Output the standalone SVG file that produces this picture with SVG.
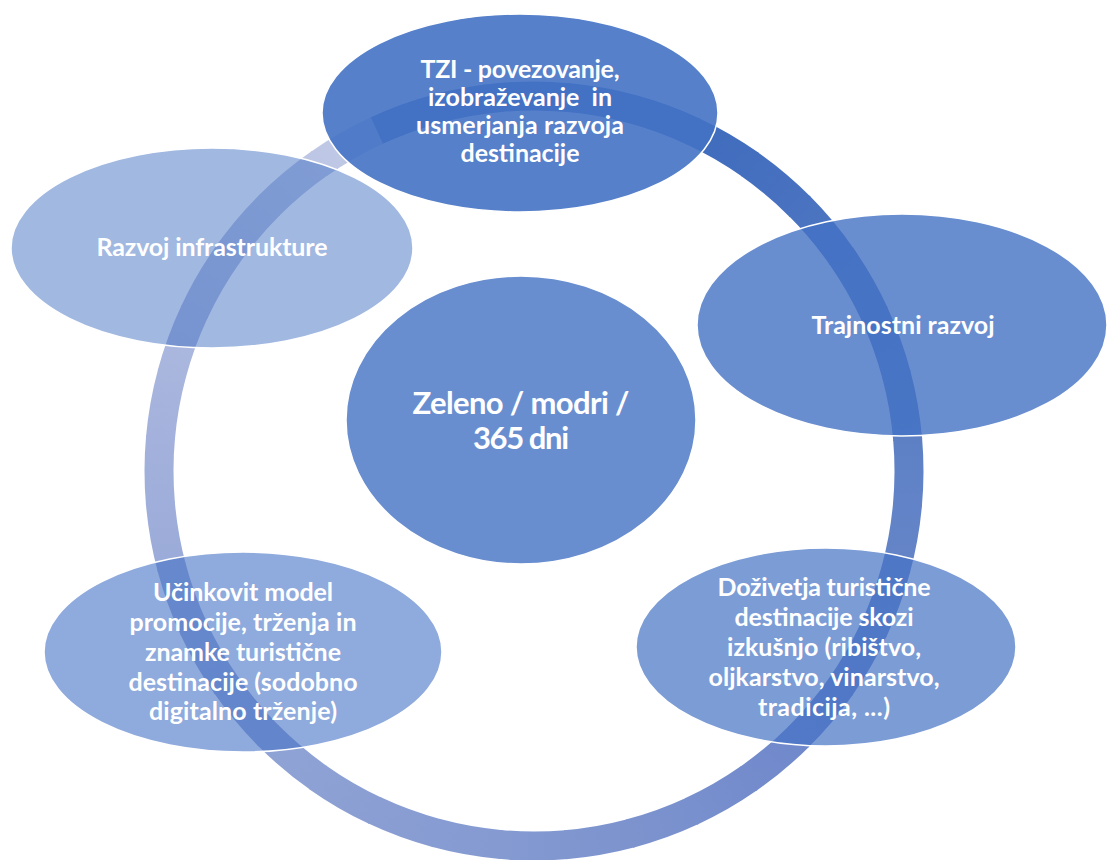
<svg xmlns="http://www.w3.org/2000/svg" width="1107" height="860" viewBox="0 0 1107 860">
<style>
.n{stroke:#fff;stroke-width:1.5}
.t{font-family:Lato,"Open Sans","Liberation Sans",sans-serif;font-weight:700;font-size:25px;fill:#fff;text-anchor:middle}
.c{font-size:31px}
.s{fill:none;stroke-width:29;stroke-dasharray:67 2300}
</style>
<defs>
<linearGradient id="g01" gradientUnits="userSpaceOnUse" x1="909" y1="471" x2="903.3" y2="536.1"><stop offset="0" stop-color="#3C66B9"/><stop offset="1" stop-color="#3D67BA"/></linearGradient>
<linearGradient id="g02" href="#g01"><stop offset="0" stop-color="#3D67BA"/><stop offset="1" stop-color="#3E69BB"/></linearGradient>
<linearGradient id="g03" href="#g01"><stop offset="0" stop-color="#3E69BB"/><stop offset="1" stop-color="#3F6ABC"/></linearGradient>
<linearGradient id="g04" href="#g01"><stop offset="0" stop-color="#3F6ABC"/><stop offset="1" stop-color="#406BBC"/></linearGradient>
<linearGradient id="g05" href="#g01"><stop offset="0" stop-color="#406BBC"/><stop offset="1" stop-color="#406CBD"/></linearGradient>
<linearGradient id="g06" href="#g01"><stop offset="0" stop-color="#406CBD"/><stop offset="1" stop-color="#446FBF"/></linearGradient>
<linearGradient id="g07" href="#g01"><stop offset="0" stop-color="#446FBF"/><stop offset="1" stop-color="#4972C0"/></linearGradient>
<linearGradient id="g08" href="#g01"><stop offset="0" stop-color="#4972C0"/><stop offset="1" stop-color="#4E76C1"/></linearGradient>
<linearGradient id="g09" href="#g01"><stop offset="0" stop-color="#4E76C1"/><stop offset="1" stop-color="#5379C3"/></linearGradient>
<linearGradient id="g10" href="#g01"><stop offset="0" stop-color="#5379C3"/><stop offset="1" stop-color="#587DC4"/></linearGradient>
<linearGradient id="g11" href="#g01"><stop offset="0" stop-color="#587DC4"/><stop offset="1" stop-color="#5D80C5"/></linearGradient>
<linearGradient id="g12" href="#g01"><stop offset="0" stop-color="#5D80C5"/><stop offset="1" stop-color="#6283C7"/></linearGradient>
<linearGradient id="g13" href="#g01"><stop offset="0" stop-color="#6283C7"/><stop offset="1" stop-color="#6584C8"/></linearGradient>
<linearGradient id="g14" href="#g01"><stop offset="0" stop-color="#6584C8"/><stop offset="1" stop-color="#6986C9"/></linearGradient>
<linearGradient id="g15" href="#g01"><stop offset="0" stop-color="#6986C9"/><stop offset="1" stop-color="#6C87CA"/></linearGradient>
<linearGradient id="g16" href="#g01"><stop offset="0" stop-color="#6C87CA"/><stop offset="1" stop-color="#7089CB"/></linearGradient>
<linearGradient id="g17" href="#g01"><stop offset="0" stop-color="#7089CB"/><stop offset="1" stop-color="#748CCC"/></linearGradient>
<linearGradient id="g18" href="#g01"><stop offset="0" stop-color="#748CCC"/><stop offset="1" stop-color="#7890CD"/></linearGradient>
<linearGradient id="g19" href="#g01"><stop offset="0" stop-color="#7890CD"/><stop offset="1" stop-color="#7C93CE"/></linearGradient>
<linearGradient id="g20" href="#g01"><stop offset="0" stop-color="#7C93CE"/><stop offset="1" stop-color="#8096CF"/></linearGradient>
<linearGradient id="g21" href="#g01"><stop offset="0" stop-color="#8096CF"/><stop offset="1" stop-color="#849AD1"/></linearGradient>
<linearGradient id="g22" href="#g01"><stop offset="0" stop-color="#849AD1"/><stop offset="1" stop-color="#879CD2"/></linearGradient>
<linearGradient id="g23" href="#g01"><stop offset="0" stop-color="#879CD2"/><stop offset="1" stop-color="#8A9ED3"/></linearGradient>
<linearGradient id="g24" href="#g01"><stop offset="0" stop-color="#8A9ED3"/><stop offset="1" stop-color="#8DA1D4"/></linearGradient>
<linearGradient id="g25" href="#g01"><stop offset="0" stop-color="#8DA1D4"/><stop offset="1" stop-color="#90A3D5"/></linearGradient>
<linearGradient id="g26" href="#g01"><stop offset="0" stop-color="#90A3D5"/><stop offset="1" stop-color="#94A6D6"/></linearGradient>
<linearGradient id="g27" href="#g01"><stop offset="0" stop-color="#94A6D6"/><stop offset="1" stop-color="#98A8D8"/></linearGradient>
<linearGradient id="g28" href="#g01"><stop offset="0" stop-color="#98A8D8"/><stop offset="1" stop-color="#9BABD9"/></linearGradient>
<linearGradient id="g29" href="#g01"><stop offset="0" stop-color="#9BABD9"/><stop offset="1" stop-color="#9FAEDA"/></linearGradient>
<linearGradient id="g30" href="#g01"><stop offset="0" stop-color="#9FAEDA"/><stop offset="1" stop-color="#A3B1DC"/></linearGradient>
<linearGradient id="g31" href="#g01"><stop offset="0" stop-color="#A3B1DC"/><stop offset="1" stop-color="#A8B5DD"/></linearGradient>
<linearGradient id="g32" href="#g01"><stop offset="0" stop-color="#A8B5DD"/><stop offset="1" stop-color="#ADB9DF"/></linearGradient>
<linearGradient id="g33" href="#g01"><stop offset="0" stop-color="#ADB9DF"/><stop offset="1" stop-color="#B2BDE0"/></linearGradient>
<linearGradient id="g34" href="#g01"><stop offset="0" stop-color="#B2BDE0"/><stop offset="1" stop-color="#B7C2E2"/></linearGradient>
<linearGradient id="g35" href="#g01"><stop offset="0" stop-color="#B7C2E2"/><stop offset="1" stop-color="#BDC6E4"/></linearGradient>
<linearGradient id="g36" href="#g01"><stop offset="0" stop-color="#BDC6E4"/><stop offset="1" stop-color="#C2CBE6"/></linearGradient>
</defs>
<rect width="1107" height="860" fill="#fff"/>
<g id="connectors">
<g id="ring">
<circle class="s" cx="534" cy="471" r="375" stroke="url(#g01)" transform="rotate(-115 534 471)"/>
<circle class="s" cx="534" cy="471" r="375" stroke="url(#g02)" transform="rotate(-105 534 471)"/>
<circle class="s" cx="534" cy="471" r="375" stroke="url(#g03)" transform="rotate(-95 534 471)"/>
<circle class="s" cx="534" cy="471" r="375" stroke="url(#g04)" transform="rotate(-85 534 471)"/>
<circle class="s" cx="534" cy="471" r="375" stroke="url(#g05)" transform="rotate(-75 534 471)"/>
<circle class="s" cx="534" cy="471" r="375" stroke="url(#g06)" transform="rotate(-65 534 471)"/>
<circle class="s" cx="534" cy="471" r="375" stroke="url(#g07)" transform="rotate(-55 534 471)"/>
<circle class="s" cx="534" cy="471" r="375" stroke="url(#g08)" transform="rotate(-45 534 471)"/>
<circle class="s" cx="534" cy="471" r="375" stroke="url(#g09)" transform="rotate(-35 534 471)"/>
<circle class="s" cx="534" cy="471" r="375" stroke="url(#g10)" transform="rotate(-25 534 471)"/>
<circle class="s" cx="534" cy="471" r="375" stroke="url(#g11)" transform="rotate(-15 534 471)"/>
<circle class="s" cx="534" cy="471" r="375" stroke="url(#g12)" transform="rotate(-5 534 471)"/>
<circle class="s" cx="534" cy="471" r="375" stroke="url(#g13)" transform="rotate(5 534 471)"/>
<circle class="s" cx="534" cy="471" r="375" stroke="url(#g14)" transform="rotate(15 534 471)"/>
<circle class="s" cx="534" cy="471" r="375" stroke="url(#g15)" transform="rotate(25 534 471)"/>
<circle class="s" cx="534" cy="471" r="375" stroke="url(#g16)" transform="rotate(35 534 471)"/>
<circle class="s" cx="534" cy="471" r="375" stroke="url(#g17)" transform="rotate(45 534 471)"/>
<circle class="s" cx="534" cy="471" r="375" stroke="url(#g18)" transform="rotate(55 534 471)"/>
<circle class="s" cx="534" cy="471" r="375" stroke="url(#g19)" transform="rotate(65 534 471)"/>
<circle class="s" cx="534" cy="471" r="375" stroke="url(#g20)" transform="rotate(75 534 471)"/>
<circle class="s" cx="534" cy="471" r="375" stroke="url(#g21)" transform="rotate(85 534 471)"/>
<circle class="s" cx="534" cy="471" r="375" stroke="url(#g22)" transform="rotate(95 534 471)"/>
<circle class="s" cx="534" cy="471" r="375" stroke="url(#g23)" transform="rotate(105 534 471)"/>
<circle class="s" cx="534" cy="471" r="375" stroke="url(#g24)" transform="rotate(115 534 471)"/>
<circle class="s" cx="534" cy="471" r="375" stroke="url(#g25)" transform="rotate(125 534 471)"/>
<circle class="s" cx="534" cy="471" r="375" stroke="url(#g26)" transform="rotate(135 534 471)"/>
<circle class="s" cx="534" cy="471" r="375" stroke="url(#g27)" transform="rotate(145 534 471)"/>
<circle class="s" cx="534" cy="471" r="375" stroke="url(#g28)" transform="rotate(155 534 471)"/>
<circle class="s" cx="534" cy="471" r="375" stroke="url(#g29)" transform="rotate(165 534 471)"/>
<circle class="s" cx="534" cy="471" r="375" stroke="url(#g30)" transform="rotate(175 534 471)"/>
<circle class="s" cx="534" cy="471" r="375" stroke="url(#g31)" transform="rotate(185 534 471)"/>
<circle class="s" cx="534" cy="471" r="375" stroke="url(#g32)" transform="rotate(195 534 471)"/>
<circle class="s" cx="534" cy="471" r="375" stroke="url(#g33)" transform="rotate(205 534 471)"/>
<circle class="s" cx="534" cy="471" r="375" stroke="url(#g34)" transform="rotate(215 534 471)"/>
<circle class="s" cx="534" cy="471" r="375" stroke="url(#g35)" transform="rotate(225 534 471)"/>
<circle class="s" cx="534" cy="471" r="375" stroke="url(#g36)" transform="rotate(235 534 471)"/>
</g>
</g>
<g id="center">
<ellipse class="n" cx="521" cy="420" rx="175" ry="144" fill="#4472C4" fill-opacity="0.8"/>
<text class="t c" x="521" y="414" textLength="217">Zeleno / modri /</text>
<text class="t c" x="521" y="449" textLength="96">365 dni</text>
</g>
<g id="node-top">
<ellipse class="n" cx="520" cy="113" rx="198" ry="99" fill="#4472C4" fill-opacity="0.9"/>
<text class="t" x="520" y="78" textLength="199">TZI - povezovanje,</text>
<text class="t" x="520" y="106" textLength="184">izobraževanje&#160; in</text>
<text class="t" x="520" y="134" textLength="208">usmerjanja razvoja</text>
<text class="t" x="520" y="162" textLength="119">destinacije</text>
</g>
<g id="node-right">
<ellipse class="n" cx="902" cy="325" rx="205" ry="111" fill="#4472C4" fill-opacity="0.8"/>
<text class="t" x="903" y="334" textLength="183">Trajnostni razvoj</text>
</g>
<g id="node-bottom-right">
<ellipse class="n" cx="826" cy="647" rx="190" ry="99" fill="#4472C4" fill-opacity="0.7"/>
<text class="t" x="824" y="596" textLength="213">Doživetja turistične</text>
<text class="t" x="824" y="626" textLength="179">destinacije skozi</text>
<text class="t" x="824" y="656" textLength="194">izkušnjo (ribištvo,</text>
<text class="t" x="824" y="686" textLength="231">oljkarstvo, vinarstvo,</text>
<text class="t" x="824" y="716" textLength="132">tradicija, ...)</text>
</g>
<g id="node-bottom-left">
<ellipse class="n" cx="243" cy="652" rx="199" ry="100" fill="#4472C4" fill-opacity="0.6"/>
<text class="t" x="243" y="601" textLength="180">Učinkovit model</text>
<text class="t" x="243" y="631" textLength="227">promocije, trženja in</text>
<text class="t" x="243" y="661" textLength="196">znamke turistične</text>
<text class="t" x="243" y="691" textLength="229">destinacije (sodobno</text>
<text class="t" x="243" y="720" textLength="188">digitalno trženje)</text>
</g>
<g id="node-left">
<ellipse class="n" cx="212" cy="248" rx="201" ry="100" fill="#4472C4" fill-opacity="0.5"/>
<text class="t" x="212" y="256" textLength="231">Razvoj infrastrukture</text>
</g>
</svg>
